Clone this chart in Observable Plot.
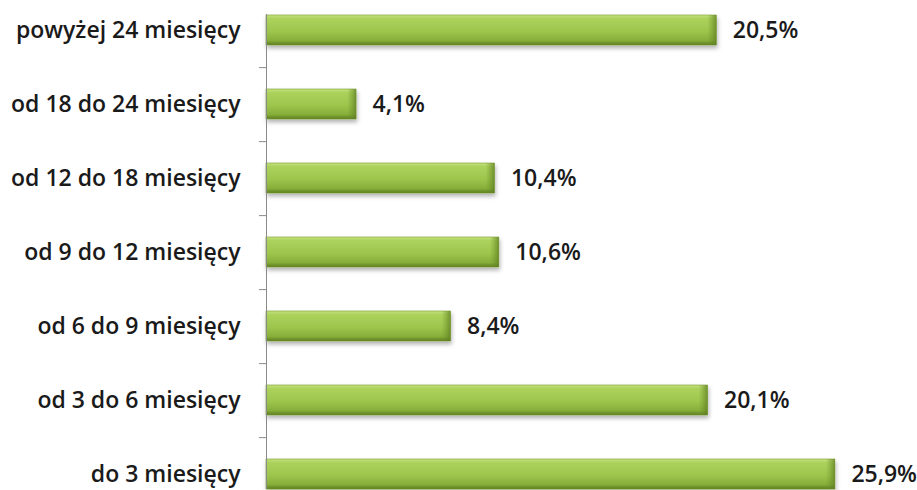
<!DOCTYPE html>
<html>
<head>
<meta charset="utf-8">
<script src="https://cdn.jsdelivr.net/npm/d3@7"></script>
<script src="https://cdn.jsdelivr.net/npm/@observablehq/plot@0.6"></script>
<style>
  html, body { margin: 0; padding: 0; background: #fff; }
  #chart svg { display: block; }
</style>
</head>
<body>
<div id="chart"></div>
<script>
const categories = [
  "powyżej 24 miesięcy",
  "od 18 do 24 miesięcy",
  "od 12 do 18 miesięcy",
  "od 9 do 12 miesięcy",
  "od 6 do 9 miesięcy",
  "od 3 do 6 miesięcy",
  "do 3 miesięcy"
];
const values = [20.5, 4.1, 10.4, 10.6, 8.4, 20.1, 25.9];

const data = categories.map((c, i) => ({ category: c, value: values[i] }));
const fmt = v => d3.format(".1f")(v).replace(".", ",") + "%";

const W = 917, H = 490;
const mTop = 14, mBottom = 1, mLeft = 266, mRight = 36;
const xMax = 28;
const padding = 0.6;
const step = (H - mTop - mBottom) / (categories.length - padding);
const pxPerUnit = (W - mLeft - mRight) / xMax;
const tickLen = 7 / pxPerUnit;

const defs = () => {
  const d = d3.create("svg:defs");
  const g = d.append("linearGradient").attr("id", "barGrad").attr("x1", 0).attr("y1", 0).attr("x2", 0).attr("y2", 1);
  [[0, "#c4e27e"], [0.12, "#acd25c"], [0.55, "#9dc54c"], [0.85, "#87ae39"], [1, "#5d7d22"]]
    .forEach(([o, c]) => g.append("stop").attr("offset", o).attr("stop-color", c));
  const e = d.append("linearGradient").attr("id", "endGrad").attr("x1", 0).attr("y1", 0).attr("x2", 1).attr("y2", 0);
  [[0, "#6f9128", 0], [1, "#5d7d22", 0.75]]
    .forEach(([o, c, op]) => e.append("stop").attr("offset", o).attr("stop-color", c).attr("stop-opacity", op));
  const f = d.append("filter").attr("id", "shadow").attr("x", "-5%").attr("y", "-30%").attr("width", "110%").attr("height", "170%");
  f.append("feDropShadow").attr("dx", 1).attr("dy", 3).attr("stdDeviation", 2).attr("flood-color", "#000").attr("flood-opacity", 0.3);
  return d.node();
};

const chart = Plot.plot({
  width: W,
  height: H,
  marginTop: mTop,
  marginBottom: mBottom,
  marginLeft: mLeft,
  marginRight: mRight,
  style: { fontFamily: "'Open Sans', Lato, sans-serif", background: "#fff" },
  x: { domain: [0, xMax], axis: null },
  y: { domain: categories, padding: padding, align: 0.5, paddingOuter: 0, label: null },
  marks: [
    defs,
    Plot.axisY({
      tickSize: 0,
      tickPadding: 26,
      fontSize: 23,
      fontWeight: 600,
      fill: "#1a1a1a",
      label: null
    }),
    Plot.barX(data, {
      y: "category",
      x: "value",
      fill: "url(#barGrad)",
      stroke: "#7a9c30",
      strokeWidth: 0.6,
      render: (index, scales, values, dims, context, next) => {
        const g = next(index, scales, values, dims, context);
        g.setAttribute("filter", "url(#shadow)");
        return g;
      }
    }),
    Plot.barX(data, {
      y: "category",
      x1: "value",
      x2: "value",
      insetLeft: -9,
      fill: "url(#endGrad)"
    }),
    Plot.ruleX([0], { stroke: "#8a8a8a", strokeWidth: 1 }),
    Plot.ruleY(categories.slice(0, categories.length - 1), {
      y: d => d,
      x1: -tickLen,
      x2: 0,
      dy: step / 2,
      stroke: "#8a8a8a",
      strokeWidth: 1
    }),
    Plot.text(data, {
      y: "category",
      x: "value",
      text: d => fmt(d.value),
      textAnchor: "start",
      dx: 16,
      fontSize: 23,
      fontWeight: 600,
      fill: "#1a1a1a"
    })
  ]
});

document.getElementById("chart").appendChild(chart);
</script>
</body>
</html>
